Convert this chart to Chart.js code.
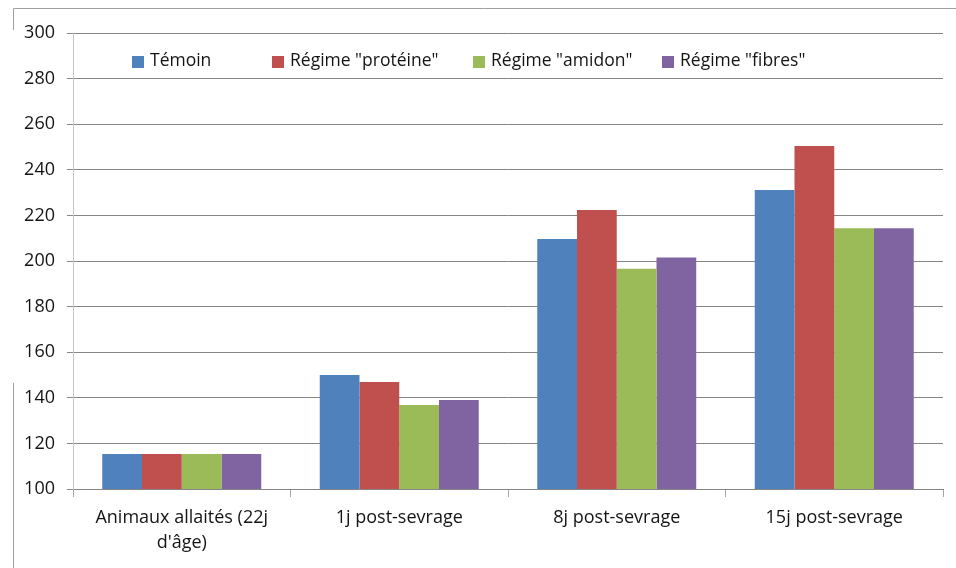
<!DOCTYPE html>
<html>
<head>
<meta charset="utf-8">
<script src="https://cdn.jsdelivr.net/npm/chart.js@4/dist/chart.umd.min.js"></script>
<style>
  html, body { margin: 0; padding: 0; background: #fff; }
  #wrap { width: 956px; height: 568px; position: relative; }
</style>
</head>
<body>
<div id="wrap"><canvas id="c" width="956" height="568"></canvas></div>
<script>
// Categories (age / time after weaning)
const categories = [
  ["Animaux allaités (22j", "d'âge)"],
  "1j post-sevrage",
  "8j post-sevrage",
  "15j post-sevrage"
];

// Series
const seriesNames = ["Témoin", 'Régime "protéine"', 'Régime "amidon"', 'Régime "fibres"'];
const temoin   = [115.3, 150.0, 209.6, 231.1];
const proteine = [115.3, 146.9, 222.4, 250.4];
const amidon   = [115.3, 136.8, 196.6, 214.4];
const fibres   = [115.3, 139.0, 201.5, 214.4];

// Y axis ticks
const yMin = 100, yMax = 300, yStep = 20;

const colors = ["#4F81BD", "#C0504D", "#9BBB59", "#8064A2"];
const FONT = "'Open Sans', 'Lato', sans-serif";

// Partial outer frame of the chart area
const framePlugin = {
  id: 'frame',
  beforeDraw(chart) {
    const ctx = chart.ctx;
    ctx.save();
    ctx.strokeStyle = '#A0A0A0';
    ctx.lineWidth = 1;
    ctx.beginPath();
    ctx.moveTo(13.5, 568); ctx.lineTo(13.5, 383);
    ctx.moveTo(13.5, 30); ctx.lineTo(13.5, 8.5); ctx.lineTo(956, 8.5);
    ctx.stroke();
    ctx.restore();
  }
};

// Legend laid out inside the plot area, along the top
const insideLegend = {
  id: 'insideLegend',
  afterDraw(chart, args, opts) {
    const ctx = chart.ctx;
    ctx.save();
    ctx.font = opts.font;
    ctx.textBaseline = 'middle';
    ctx.textAlign = 'left';
    chart.data.datasets.forEach((ds, i) => {
      const x = opts.xs[i];
      ctx.fillStyle = ds.backgroundColor;
      ctx.fillRect(x, opts.boxTop, opts.box, opts.box);
      ctx.fillStyle = '#141414';
      ctx.fillText(ds.label, x + opts.box + 6, opts.boxTop + opts.box / 2 - 1);
    });
    ctx.restore();
  }
};

const seriesData = [temoin, proteine, amidon, fibres];

new Chart(document.getElementById('c'), {
  type: 'bar',
  data: {
    labels: categories,
    datasets: seriesNames.map((name, i) => ({
      label: name,
      data: seriesData[i],
      backgroundColor: colors[i],
      borderWidth: 0,
      categoryPercentage: 0.731,
      barPercentage: 1.0
    }))
  },
  options: {
    responsive: false,
    animation: false,
    devicePixelRatio: 1,
    layout: { padding: { left: 0, right: 13, top: 33, bottom: 0 } },
    plugins: {
      legend: { display: false },
      tooltip: { enabled: false },
      insideLegend: {
        xs: [132, 272, 473, 662],
        boxTop: 56,
        box: 12,
        font: "17.5px " + FONT
      }
    },
    scales: {
      x: {
        afterFit(s) { s.height = 79; },
        grid: {
          offset: true,
          drawOnChartArea: false,
          drawTicks: true,
          tickLength: 8,
          color: '#A6A6A6',
          tickColor: '#A6A6A6'
        },
        border: { display: true, color: '#868686', width: 1 },
        ticks: {
          color: '#141414',
          font: { family: FONT, size: 18, lineHeight: 1.4 },
          padding: 8,
          maxRotation: 0,
          autoSkip: false
        }
      },
      y: {
        min: yMin,
        max: yMax,
        afterFit(s) { s.width = 73; },
        grid: {
          color: '#868686',
          tickColor: '#868686',
          tickLength: 6,
          lineWidth: 1
        },
        border: { display: true, color: '#C4C4C4', width: 1 },
        ticks: {
          stepSize: yStep,
          color: '#141414',
          font: { family: FONT, size: 18 },
          padding: 12
        }
      }
    }
  },
  plugins: [framePlugin, insideLegend]
});
</script>
</body>
</html>
